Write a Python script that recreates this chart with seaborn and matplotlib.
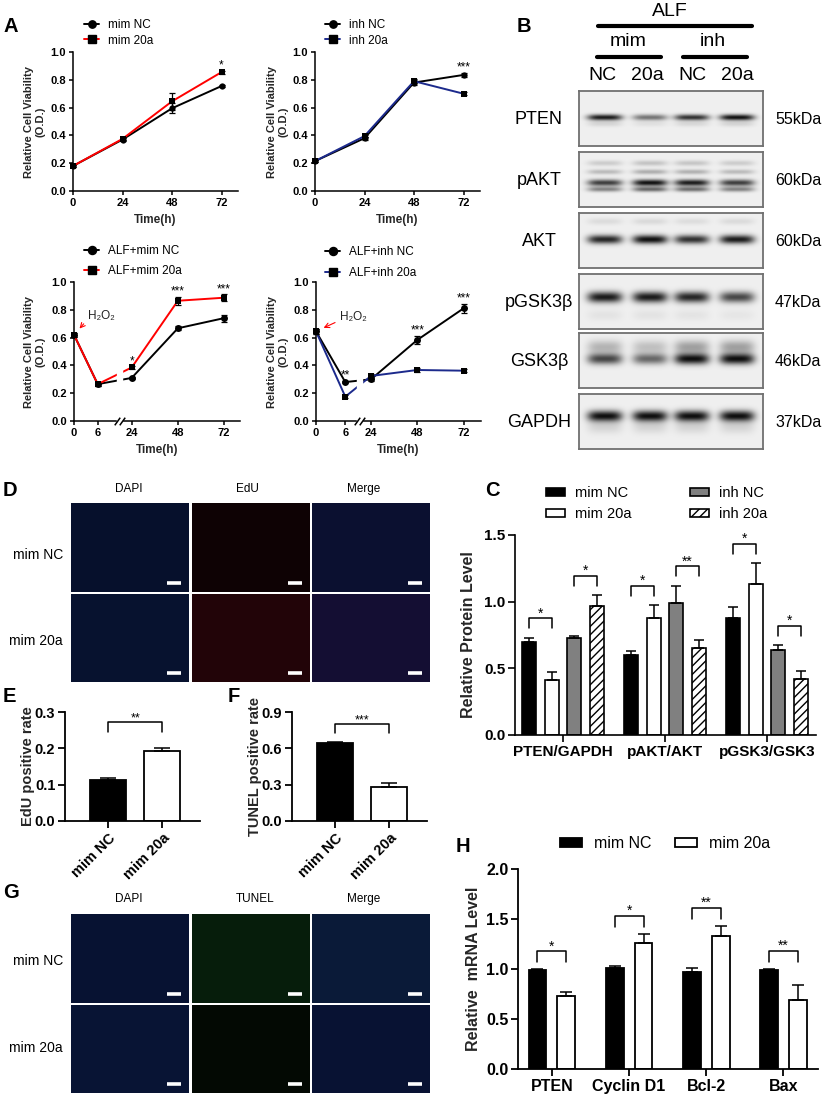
import numpy as np
import pandas as pd
import matplotlib
matplotlib.use("Agg")
import matplotlib.pyplot as plt
import seaborn as sns
from matplotlib.lines import Line2D
from matplotlib.patches import Rectangle

# ---------------- values ----------------
# A: cell viability (O.D.)
hours = [0, 24, 48, 72]
mim_nc = [0.18, 0.37, 0.595, 0.755]
mim_nc_err = [0.008, 0.008, 0.035, 0.01]
mim_20a = [0.18, 0.375, 0.645, 0.855]
mim_20a_err = [0.008, 0.008, 0.06, 0.01]
inh_nc = [0.215, 0.38, 0.78, 0.835]
inh_nc_err = [0.008, 0.01, 0.015, 0.015]
inh_20a = [0.215, 0.395, 0.79, 0.70]
inh_20a_err = [0.008, 0.01, 0.015, 0.01]

alf_hours = [0, 6, 24, 48, 72]
alf_mim_nc = [0.62, 0.265, 0.31, 0.667, 0.74]
alf_mim_nc_err = [0.015, 0.01, 0.01, 0.015, 0.025]
alf_mim_20a = [0.62, 0.265, 0.385, 0.865, 0.887]
alf_mim_20a_err = [0.015, 0.01, 0.01, 0.03, 0.025]
alf_inh_nc = [0.645, 0.28, 0.30, 0.583, 0.81]
alf_inh_nc_err = [0.02, 0.01, 0.015, 0.03, 0.035]
alf_inh_20a = [0.645, 0.175, 0.324, 0.367, 0.362]
alf_inh_20a_err = [0.02, 0.01, 0.015, 0.015, 0.01]

mim_stars = [(72, "*")]
inh_stars = [(72, "***")]
alf_mim_stars = [(24, "*"), (48, "***"), (72, "***")]
alf_inh_stars = [(6, "**"), (48, "***"), (72, "***")]

# B: western blot
blot_rows = ["PTEN", "pAKT", "AKT", "pGSK3β", "GSK3β", "GAPDH"]
blot_kda = ["55kDa", "60kDa", "60kDa", "47kDa", "46kDa", "37kDa"]
lane_labels = ["NC", "20a", "NC", "20a"]
band_pten = [0.95, 0.55, 0.85, 1.0]
band_pakt = [0.8, 1.0, 0.95, 0.8]
band_akt = [0.9, 1.0, 0.85, 0.95]
band_pgsk = [0.95, 0.95, 0.9, 0.75]
band_gsk = [0.75, 0.6, 1.0, 1.0]
band_gapdh = [1.0, 1.0, 1.0, 1.0]

# C: relative protein level
prot_names = ["PTEN/GAPDH", "pAKT/AKT", "pGSK3/GSK3"]
prot_groups = ["mim NC", "mim 20a", "inh NC", "inh 20a"]
prot_mim_nc = [0.70, 0.60, 0.875]
prot_mim_nc_err = [0.03, 0.03, 0.085]
prot_mim_20a = [0.41, 0.88, 1.13]
prot_mim_20a_err = [0.065, 0.095, 0.16]
prot_inh_nc = [0.725, 0.99, 0.64]
prot_inh_nc_err = [0.015, 0.13, 0.035]
prot_inh_20a = [0.97, 0.655, 0.42]
prot_inh_20a_err = [0.08, 0.055, 0.06]
prot_stars_mim = ["*", "*", "*"]
prot_stars_inh = ["*", "**", "*"]

# E / F
two_groups = ["mim NC", "mim 20a"]
edu_rate = [0.112, 0.193]
edu_err = [0.006, 0.009]
tunel_rate = [0.645, 0.28]
tunel_err = [0.01, 0.032]

# H: relative mRNA level
genes = ["PTEN", "Cyclin D1", "Bcl-2", "Bax"]
mrna_nc = [0.99, 1.015, 0.97, 0.99]
mrna_nc_err = [0.008, 0.015, 0.04, 0.01]
mrna_20a = [0.73, 1.26, 1.33, 0.69]
mrna_20a_err = [0.04, 0.09, 0.10, 0.15]
mrna_stars = ["*", "*", "**", "**"]

# ---------------- figure setup ----------------
sns.set_theme(style="ticks")
plt.rcParams["font.family"] = ["Liberation Sans", "DejaVu Sans"]
plt.rcParams["axes.edgecolor"] = "black"
plt.rcParams["xtick.color"] = "black"
plt.rcParams["ytick.color"] = "black"
plt.rcParams["text.color"] = "black"
plt.rcParams["hatch.linewidth"] = 1.0

W, H = 830, 1101
fig = plt.figure(figsize=(W / 100, H / 100), dpi=100)
fig.patch.set_facecolor("white")


def box(l, t, r, b):
    return [l / W, 1 - b / H, (r - l) / W, (b - t) / H]


def ftext(x, y, s, **kw):
    fig.text(x / W, 1 - y / H, s, **kw)


def style_axis(ax, fs, lw=1.1, length=3.5):
    sns.despine(ax=ax)
    for s in ["left", "bottom"]:
        ax.spines[s].set_linewidth(lw)
        ax.spines[s].set_color("black")
    ax.tick_params(axis="both", labelsize=fs, width=lw, length=length, pad=2)
    for lab in ax.get_xticklabels() + ax.get_yticklabels():
        lab.set_fontweight("bold")


def broken_scale(tp, pp):
    s0 = (pp[1] - pp[0]) / (tp[1] - tp[0])
    s1 = (pp[-1] - pp[-2]) / (tp[-1] - tp[-2])
    te = [-100] + list(tp) + [300]
    pe = [pp[0] - 100 * s0] + list(pp) + [pp[-1] + (300 - tp[-1]) * s1]
    return (lambda t: np.interp(t, te, pe)), (lambda p: np.interp(p, pe, te))


# ---------------- A: line charts ----------------
def line_panel(rect, times, a, a_err, b, b_err, names, color, stars,
               leg_at, spacing, brk=None, gap=None, h2o2=None, ms=4.5,
               label_right=45):
    ax = fig.add_axes(box(*rect))
    width_px = rect[2] - rect[0]
    if brk is not None:
        fwd, inv = broken_scale(*brk)
        ax.set_xscale("function", functions=(fwd, inv))
    df = pd.DataFrame({
        "time": list(times) * 2,
        "value": list(a) + list(b),
        "group": [names[0]] * len(times) + [names[1]] * len(times),
    })
    sns.lineplot(data=df, x="time", y="value", hue="group", style="group",
                 hue_order=names, style_order=names, palette=["black", color],
                 markers=["o", "s"], dashes=False, markersize=ms,
                 markerfacecolor="black", markeredgecolor="black",
                 markeredgewidth=0, linewidth=1.4, legend=False,
                 clip_on=False, ax=ax)
    for v, e in [(a, a_err), (b, b_err)]:
        ax.errorbar(times, v, yerr=e, fmt="none", ecolor="black",
                    elinewidth=0.9, capsize=2.2, capthick=0.9, clip_on=False)
    for t, s in stars:
        i = list(times).index(t)
        top = max(a[i] + a_err[i], b[i] + b_err[i])
        ax.text(t, top + 0.015, s, ha="center", va="baseline", fontsize=8.5)
    if brk is not None:
        g0, g1 = inv(gap[0]), inv(gap[1])
        ax.axvspan(g0, g1, ymin=-0.03, ymax=1.0, color="white", zorder=3,
                   clip_on=False)
        ax.plot([g0, g1], [0, 0], transform=ax.get_xaxis_transform(),
                marker=[(-1, -1.4), (1, 1.4)], markersize=5.5, ls="none",
                color="black", mec="black", mew=1.1, clip_on=False, zorder=4)
        ax.set_xlim(0, inv(width_px))
    else:
        ax.set_xlim(0, 80)
    ax.set_xticks(times)
    ax.set_xticklabels([str(t) for t in times])
    ax.set_ylim(0, 1.0)
    yt = [0, 0.2, 0.4, 0.6, 0.8, 1.0]
    ax.set_yticks(yt)
    ax.set_yticklabels([f"{v:.1f}" for v in yt])
    ax.set_xlabel("Time(h)", fontsize=8.5, fontweight="bold", labelpad=4)
    ax.set_ylabel("Relative Cell Viability\n(O.D.)", fontsize=8,
                  fontweight="bold", linespacing=1.1)
    ax.yaxis.set_label_coords((label_right - rect[0]) / width_px, 0.5)
    style_axis(ax, 8, lw=1.1, length=3)
    if h2o2 is not None:
        ax.annotate("H₂O₂", xy=(times[0], a[0]), xytext=h2o2,
                    textcoords="offset points", ha="left", va="center",
                    fontsize=8.5, color="#222222",
                    arrowprops=dict(arrowstyle="->", color="red", lw=0.8,
                                    shrinkA=1, shrinkB=6,
                                    relpos=(0.0, 0.25)))
    handles = [
        Line2D([], [], color="black", marker="o", mfc="black", mec="black",
               ms=ms + 0.8, lw=1.4),
        Line2D([], [], color=color, marker="s", mfc="black", mec="black",
               ms=ms + 0.8, lw=1.4),
    ]
    ax.legend(handles, names, loc="upper left",
              bbox_to_anchor=(leg_at[0] / W, 1 - leg_at[1] / H),
              bbox_transform=fig.transFigure, frameon=False, fontsize=8.5,
              borderpad=0, borderaxespad=0, handlelength=1.3,
              handletextpad=0.7, labelspacing=spacing)
    return ax


line_panel((73, 52, 238, 191), hours, mim_nc, mim_nc_err, mim_20a,
           mim_20a_err, ["mim NC", "mim 20a"], "#ff0000", mim_stars,
           (84, 19), 0.3, label_right=45)
line_panel((315, 52, 480, 191), hours, inh_nc, inh_nc_err, inh_20a,
           inh_20a_err, ["inh NC", "inh 20a"], "#1c2a8c", inh_stars,
           (325, 19), 0.3, label_right=288)
line_panel((74, 282, 240, 421), alf_hours, alf_mim_nc, alf_mim_nc_err,
           alf_mim_20a, alf_mim_20a_err, ["ALF+mim NC", "ALF+mim 20a"],
           "#ff0000", alf_mim_stars, (84, 245), 0.65,
           brk=([0, 6, 24, 72], [0, 23.7, 57.7, 150]), gap=(42.5, 48),
           h2o2=(10, 13.5), ms=5, label_right=45)
line_panel((316, 282, 481, 421), alf_hours, alf_inh_nc, alf_inh_nc_err,
           alf_inh_20a, alf_inh_20a_err, ["ALF+inh NC", "ALF+inh 20a"],
           "#1c2a8c", alf_inh_stars, (325, 246), 0.8,
           brk=([0, 6, 24, 72], [0, 29.3, 55, 147.5]), gap=(40.5, 46),
           h2o2=(17, 10), ms=5, label_right=288)

# ---------------- B: western blot ----------------
lane_x = [0.14, 0.386, 0.614, 0.86]
blot_levels = [band_pten, band_pakt, band_akt, band_pgsk, band_gsk, band_gapdh]
# (band centre, band half height, extra faint bands)
blot_geom = [
    (0.48, 0.055, [(0.6, 0.05, 0.12)]),
    (0.56, 0.06, [(0.68, 0.045, 0.6), (0.2, 0.05, 0.2), (0.36, 0.045, 0.3)]),
    (0.48, 0.08, [(0.15, 0.06, 0.1)]),
    (0.42, 0.1, [(0.75, 0.1, 0.06)]),
    (0.47, 0.1, [(0.25, 0.12, 0.35)]),
    (0.40, 0.1, [(0.6, 0.12, 0.12)]),
]
blot_tops = [91, 152, 213, 274, 333, 394]
blot_h = 55

for name, kda, lv, (cy, hh, extra), top in zip(blot_rows, blot_kda,
                                               blot_levels, blot_geom,
                                               blot_tops):
    ax = fig.add_axes(box(579, top, 763, top + blot_h))
    yy, xx = np.mgrid[0:1:blot_h * 2j, 0:1:368j]
    img = np.full(xx.shape, 0.94)
    for cx, level in zip(lane_x, lv):
        prof = np.exp(-np.abs((xx - cx) / 0.095) ** 4)
        img -= 0.88 * level * prof * np.exp(-((yy - cy) / hh) ** 2)
        for cy2, hh2, k in extra:
            img -= 0.88 * level * k * prof * np.exp(-((yy - cy2) / hh2) ** 2)
    ax.imshow(np.clip(img, 0, 1), cmap="gray", vmin=0, vmax=1,
              aspect="auto", interpolation="bilinear")
    ax.set_xticks([])
    ax.set_yticks([])
    for s in ax.spines.values():
        s.set_color("#707070")
        s.set_linewidth(1.3)
    ftext(539, top + blot_h / 2 + 1, name, fontsize=13, ha="center",
          va="center")
    ftext(775, top + blot_h / 2 + 1, kda, fontsize=11.5, ha="left",
          va="center")

ftext(670, 12, "ALF", fontsize=14, ha="center", va="center")
ftext(628, 41, "mim", fontsize=14, ha="center", va="center")
ftext(713, 41, "inh", fontsize=14, ha="center", va="center")
for x, lab in zip([602, 647, 692, 737], lane_labels):
    ftext(x, 76, lab, fontsize=14, ha="center", va="center")
for x0, x1, y in [(598, 752, 26), (597, 661, 57), (683, 747, 57)]:
    fig.add_artist(Line2D([x0 / W, x1 / W], [1 - y / H, 1 - y / H],
                          transform=fig.transFigure, color="black", lw=3))


# ---------------- bar chart helpers ----------------
def add_errors(ax, errs_by_hue, cap):
    bars = list(ax.containers)
    for cont, errs in zip(bars, errs_by_hue):
        for bar, e in zip(cont, errs):
            cx = bar.get_x() + bar.get_width() / 2
            ax.errorbar(cx, bar.get_height(), yerr=[[0], [e]], fmt="none",
                        ecolor="black", elinewidth=1.1, capsize=cap,
                        capthick=1.1, zorder=1)
    return bars


def bracket(ax, x1, x2, y0, y1, label, fs):
    ax.plot([x1, x1, x2, x2], [y0, y1, y1, y0], color="black", lw=1.1)
    ax.text((x1 + x2) / 2, y1 + 0.005 * (ax.get_ylim()[1]), label,
            ha="center", va="baseline", fontsize=fs)


def centres(cont):
    return [b.get_x() + b.get_width() / 2 for b in cont]


# ---------------- C: protein level ----------------
axc = fig.add_axes(box(515, 535, 816, 735))
prot_vals = [prot_mim_nc, prot_mim_20a, prot_inh_nc, prot_inh_20a]
prot_errs = [prot_mim_nc_err, prot_mim_20a_err, prot_inh_nc_err,
             prot_inh_20a_err]
dfc = pd.DataFrame({
    "target": prot_names * 4,
    "level": sum(prot_vals, []),
    "group": [g for g in prot_groups for _ in prot_names],
})
prot_colors = ["black", "white", "#808080", "white"]
sns.barplot(data=dfc, x="target", y="level", hue="group", order=prot_names,
            hue_order=prot_groups, palette=prot_colors, width=0.88, gap=0.38,
            edgecolor="black", linewidth=1.2, saturation=1, errorbar=None,
            legend=False, ax=axc)
cbars = add_errors(axc, prot_errs, 3.5)
for bar in cbars[3]:
    bar.set_hatch("////")
for pair, stars in [((0, 1), prot_stars_mim), ((2, 3), prot_stars_inh)]:
    xa, xb = centres(cbars[pair[0]]), centres(cbars[pair[1]])
    for i, s in enumerate(stars):
        top = max(prot_vals[pair[0]][i] + prot_errs[pair[0]][i],
                  prot_vals[pair[1]][i] + prot_errs[pair[1]][i])
        bracket(axc, xa[i], xb[i], top + 0.07, top + 0.145, s, 10)
axc.set_xlim(-0.47, 2.48)
axc.set_ylim(0, 1.5)
axc.set_yticks([0, 0.5, 1.0, 1.5])
axc.set_yticklabels(["0.0", "0.5", "1.0", "1.5"])
axc.set_xlabel("")
axc.set_ylabel("Relative Protein Level", fontsize=11.5, fontweight="bold")
axc.yaxis.set_label_coords((476 - 515) / 301, 0.5)
style_axis(axc, 11, lw=1.2, length=5)
c_handles = [Rectangle((0, 0), 1, 1, fc=c, ec="black", lw=1.2) for c in
             prot_colors]
c_handles[3].set_hatch("////")
axc.legend(c_handles, prot_groups, ncol=2, loc="upper left",
           bbox_to_anchor=(546 / W, 1 - 486 / H),
           bbox_transform=fig.transFigure, frameon=False, fontsize=10.5,
           borderpad=0, borderaxespad=0, handlelength=1.3, handleheight=0.5,
           handletextpad=0.7, columnspacing=4.0, labelspacing=0.5)


# ---------------- E / F: positive rates ----------------
def two_bar(rect, rate, err, star, ylim, yticks, ylabel, label_right,
            leg_off, top_off):
    ax = fig.add_axes(box(*rect))
    df = pd.DataFrame({"group": two_groups, "rate": rate})
    sns.barplot(data=df, x="group", y="rate", hue="group", order=two_groups,
                hue_order=two_groups, palette=["black", "white"], width=0.667,
                edgecolor="black", linewidth=1.3, saturation=1,
                errorbar=None, legend=False, ax=ax)
    bars = add_errors(ax, [[e] for e in err], 6)
    x0, x1 = centres(bars[0])[0], centres(bars[1])[0]
    top = max(r + e for r, e in zip(rate, err))
    bracket(ax, x0, x1, top + leg_off, top + top_off, star, 9)
    ax.set_xlim(-0.8, 1.7)
    ax.set_ylim(*ylim)
    ax.set_yticks(yticks)
    ax.set_yticklabels([f"{v:.1f}" for v in yticks])
    ax.set_xlabel("")
    ax.set_ylabel(ylabel, fontsize=10.5, fontweight="bold")
    ax.yaxis.set_label_coords((label_right - rect[0]) / (rect[2] - rect[0]),
                              0.5)
    style_axis(ax, 10.5, lw=1.3, length=5)
    for lab in ax.get_xticklabels():
        lab.set_rotation(45)
        lab.set_ha("right")
        lab.set_va("top")
        lab.set_rotation_mode("anchor")
    return ax


two_bar((65, 712, 200, 821), edu_rate, edu_err, "**", (0, 0.3),
        [0, 0.1, 0.2, 0.3], "EdU positive rate", 35, 0.043, 0.07)
two_bar((292, 712, 427, 821), tunel_rate, tunel_err, "***", (0, 0.9),
        [0, 0.3, 0.6, 0.9], "TUNEL positive rate", 262, 0.075, 0.145)

# ---------------- H: mRNA level ----------------
axh = fig.add_axes(box(518, 869, 818, 1069))
dfh = pd.DataFrame({
    "gene": genes * 2,
    "level": mrna_nc + mrna_20a,
    "group": ["mim NC"] * 4 + ["mim 20a"] * 4,
})
sns.barplot(data=dfh, x="gene", y="level", hue="group", order=genes,
            hue_order=two_groups, palette=["black", "white"], width=0.75,
            gap=0.38, edgecolor="black", linewidth=1.3, saturation=1,
            errorbar=None, legend=False, ax=axh)
hbars = add_errors(axh, [mrna_nc_err, mrna_20a_err], 4.5)
xa, xb = centres(hbars[0]), centres(hbars[1])
for i, s in enumerate(mrna_stars):
    top = max(mrna_nc[i] + mrna_nc_err[i], mrna_20a[i] + mrna_20a_err[i])
    bracket(axh, xa[i], xb[i], top + 0.07, top + 0.18, s, 10)
axh.set_xlim(-0.44, 3.45)
axh.set_ylim(0, 2.0)
axh.set_yticks([0, 0.5, 1.0, 1.5, 2.0])
axh.set_yticklabels(["0.0", "0.5", "1.0", "1.5", "2.0"])
axh.set_xlabel("")
axh.set_ylabel("Relative  mRNA Level", fontsize=11.5, fontweight="bold")
axh.yaxis.set_label_coords((481 - 518) / 300, 0.5)
style_axis(axh, 11.5, lw=1.3, length=5)
h_handles = [Rectangle((0, 0), 1, 1, fc=c, ec="black", lw=1.3) for c in
             ["black", "white"]]
axh.legend(h_handles, two_groups, ncol=2, loc="upper left",
           bbox_to_anchor=(560 / W, 1 - 836 / H),
           bbox_transform=fig.transFigure, frameon=False, fontsize=11.5,
           borderpad=0, borderaxespad=0, handlelength=1.4, handleheight=0.55,
           handletextpad=0.7, columnspacing=1.5)

# ---------------- D / G: fluorescence images ----------------
cell_cols = [(71, 189), (192, 310), (312, 430)]


def image_grid(rows, titles, title_x, title_y, tints, row_label_y):
    for (t, b), tint_row in zip(rows, tints):
        for (l, r), tint in zip(cell_cols, tint_row):
            ax = fig.add_axes(box(l, t, r, b))
            ax.set_facecolor(tint)
            ax.set_xticks([])
            ax.set_yticks([])
            for s in ax.spines.values():
                s.set_visible(False)
            ax.plot([0.81, 0.93], [0.1, 0.1], transform=ax.transAxes,
                    color="white", lw=2.6, solid_capstyle="butt")
    for x, s in zip(title_x, titles):
        ftext(x, title_y, s, fontsize=8.5, ha="center", va="center")
    for y, s in zip(row_label_y, two_groups):
        ftext(63, y, s, fontsize=10, ha="right", va="center")


image_grid([(503, 592), (594, 682)], ["DAPI", "EdU", "Merge"],
           [129, 247, 364], 489,
           [["#06102c", "#0e0204", "#0b1030"],
            ["#07122f", "#220408", "#140e33"]], [555, 641])
image_grid([(914, 1003), (1005, 1093)], ["DAPI", "TUNEL", "Merge"],
           [129, 255, 364], 899,
           [["#071232", "#061d0b", "#0a1a38"],
            ["#081434", "#030903", "#081233"]], [961, 1048])

# ---------------- panel letters ----------------
for x, y, s in [(3, 26, "A"), (517, 26, "B"), (485, 491, "C"),
                (3, 491, "D"), (3, 697, "E"), (228, 697, "F"),
                (3, 892, "G"), (456, 847, "H")]:
    ftext(x, y, s, fontsize=14.5, fontweight="bold", ha="left", va="center")

fig.savefig("out.png", dpi=100)
